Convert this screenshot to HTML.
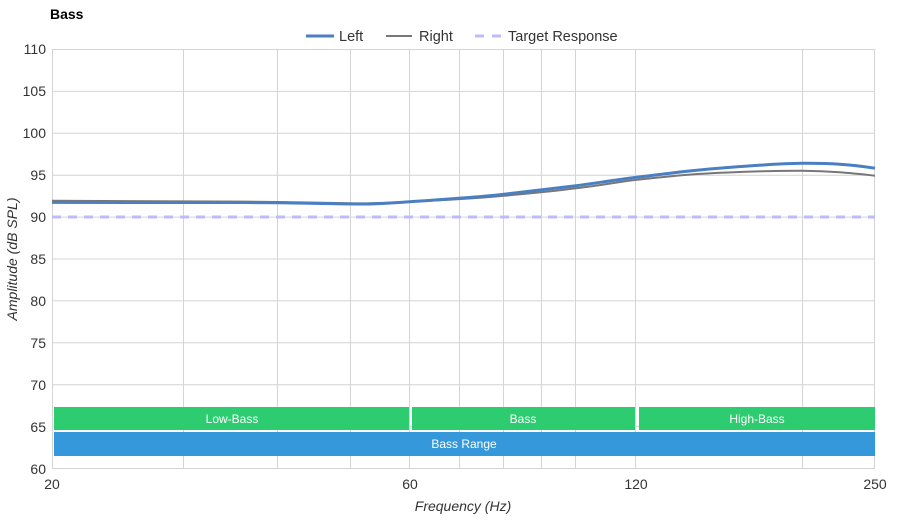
<!DOCTYPE html>
<html><head><meta charset="utf-8"><style>
body{margin:0;background:#fff;font-family:"Liberation Sans",sans-serif;}
</style></head><body>
<svg width="900" height="520" xmlns="http://www.w3.org/2000/svg" font-family="Liberation Sans, sans-serif">
<rect width="900" height="520" fill="#fff"/>
<text x="50" y="19" font-size="14" font-weight="bold" fill="#000">Bass</text>
<!-- legend -->
<line x1="306" y1="36" x2="334" y2="36" stroke="#4a7fc1" stroke-width="3"/>
<text x="339" y="41" font-size="14.5" fill="#333">Left</text>
<line x1="386" y1="36" x2="412" y2="36" stroke="#777" stroke-width="2"/>
<text x="419" y="41" font-size="14.5" fill="#333">Right</text>
<line x1="475" y1="36" x2="502" y2="36" stroke="#bcbcf8" stroke-width="3" stroke-dasharray="9,8"/>
<text x="508" y="41" font-size="14.5" fill="#333">Target Response</text>
<!-- grid -->
<g stroke="#d4d4d4" stroke-width="1">
<line x1="52" y1="49.5" x2="875" y2="49.5"/><line x1="52" y1="91.4" x2="875" y2="91.4"/>
<line x1="52" y1="133.3" x2="875" y2="133.3"/><line x1="52" y1="175.2" x2="875" y2="175.2"/>
<line x1="52" y1="217.1" x2="875" y2="217.1"/><line x1="52" y1="259" x2="875" y2="259"/>
<line x1="52" y1="300.9" x2="875" y2="300.9"/><line x1="52" y1="342.8" x2="875" y2="342.8"/>
<line x1="52" y1="384.7" x2="875" y2="384.7"/><line x1="52" y1="426.6" x2="875" y2="426.6"/>
<line x1="52" y1="468.5" x2="875" y2="468.5"/>
<line x1="52.5" y1="49" x2="52.5" y2="468"/><line x1="183.5" y1="49" x2="183.5" y2="468"/>
<line x1="277.5" y1="49" x2="277.5" y2="468"/><line x1="350.5" y1="49" x2="350.5" y2="468"/>
<line x1="409.5" y1="49" x2="409.5" y2="468"/><line x1="459.5" y1="49" x2="459.5" y2="468"/>
<line x1="503.5" y1="49" x2="503.5" y2="468"/><line x1="541.5" y1="49" x2="541.5" y2="468"/>
<line x1="575.5" y1="49" x2="575.5" y2="468"/><line x1="635.5" y1="49" x2="635.5" y2="468"/>
<line x1="802.5" y1="49" x2="802.5" y2="468"/><line x1="874.5" y1="49" x2="874.5" y2="468"/>
</g>
<!-- y labels -->
<g font-size="14" fill="#333" text-anchor="end">
<text x="46" y="54">110</text><text x="46" y="96">105</text><text x="46" y="138">100</text>
<text x="46" y="180">95</text><text x="46" y="222">90</text><text x="46" y="264">85</text>
<text x="46" y="306">80</text><text x="46" y="348">75</text><text x="46" y="390">70</text>
<text x="46" y="432">65</text><text x="46" y="474">60</text>
</g>
<g font-size="14" fill="#333" text-anchor="middle">
<text x="52" y="489">20</text><text x="410" y="489">60</text><text x="636" y="489">120</text><text x="875" y="489">250</text>
</g>
<text x="463" y="511" font-size="14" font-style="italic" fill="#333" text-anchor="middle">Frequency (Hz)</text>
<text transform="translate(17,259) rotate(-90)" font-size="14" font-style="italic" fill="#333" text-anchor="middle">Amplitude (dB SPL)</text>
<!-- target -->
<line x1="52" y1="217" x2="875" y2="217" stroke="#bcbcf8" stroke-width="3" stroke-dasharray="9,7"/>
<!-- bands -->
<rect x="54" y="407" width="355" height="23" fill="#2ecc71"/>
<rect x="412" y="407" width="223" height="23" fill="#2ecc71"/>
<rect x="639" y="407" width="236" height="23" fill="#2ecc71"/>
<rect x="54" y="432" width="821" height="24" fill="#3498db"/>
<g font-size="12" fill="#fff" text-anchor="middle">
<text x="232" y="423">Low-Bass</text><text x="523" y="423">Bass</text><text x="757" y="423">High-Bass</text>
<text x="464" y="448">Bass Range</text>
</g>
<!-- curves -->
<path d="M52,200.8 C120,200.5 200,201 278,202 C320,202.6 351,203.5 370,203.3 C385,203 395,202.3 410,201.7 C450,200 480,198 504,195.8 C540,192.5 560,190.5 576,188.3 C600,185.5 615,182.5 636,179.9 C680,175 700,173.5 728,172.5 C760,171 785,170.7 802,170.7 C830,171 850,173 875,175.7" fill="none" stroke="#777" stroke-width="2"/>
<path d="M52,202.4 C120,202 200,202 278,202.8 C320,203.3 351,204.2 370,204 C385,203.6 395,202.6 410,201.7 C450,199 480,197 504,194.2 C540,190 560,187.8 576,185.8 C600,182.5 615,180 636,177.4 C680,172 700,169.5 728,167.5 C760,165 785,163.5 802,163.3 C830,163 850,164.5 875,168.2" fill="none" stroke="#4a7fc1" stroke-width="3"/>
</svg>
</body></html>
